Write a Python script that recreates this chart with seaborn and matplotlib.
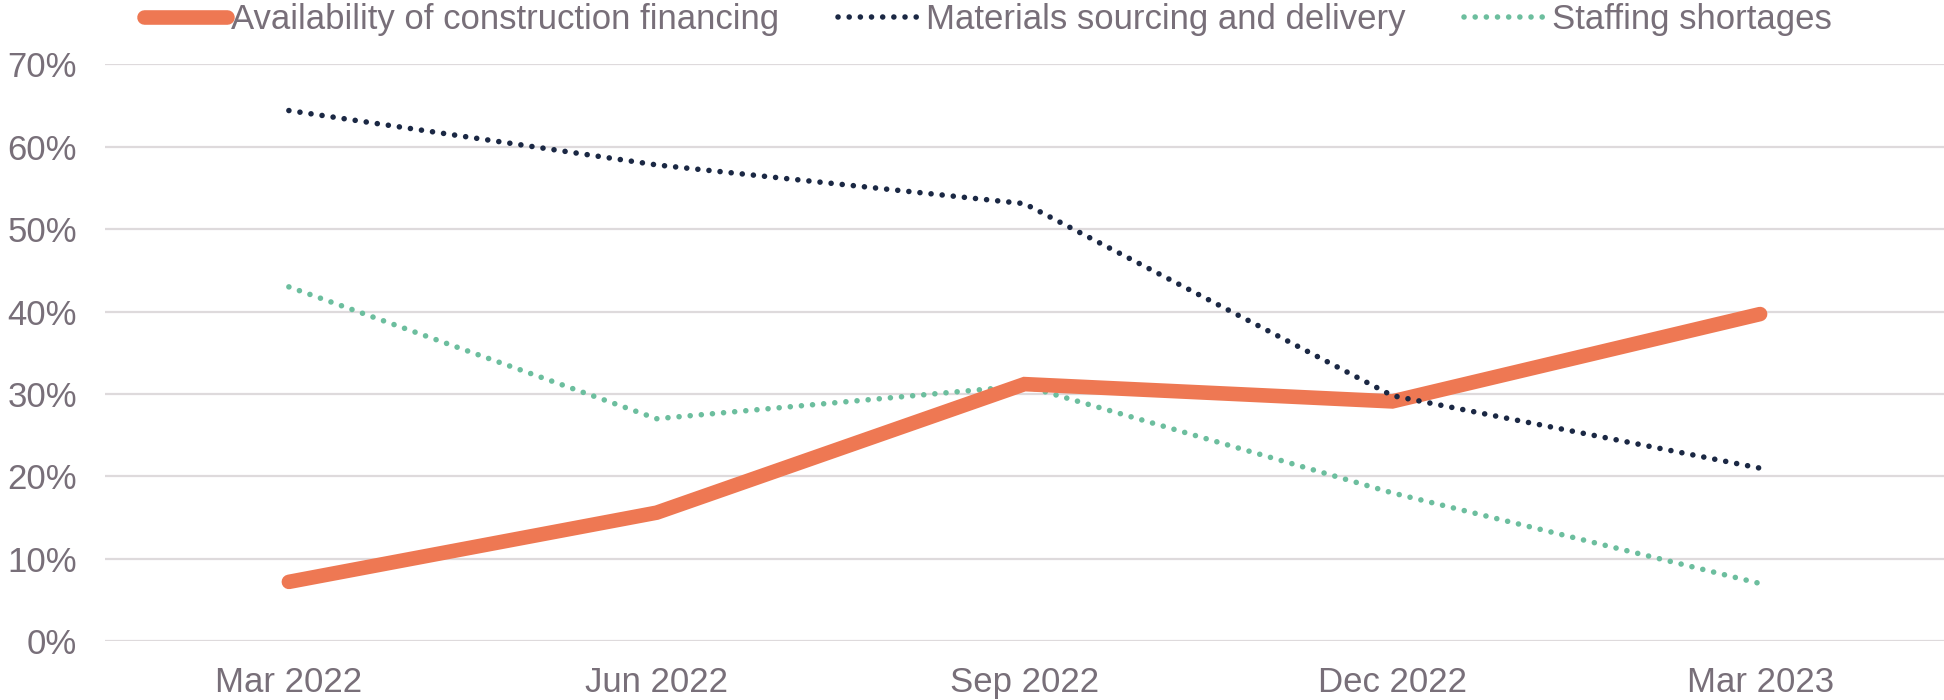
import matplotlib
matplotlib.use("Agg")
import matplotlib.pyplot as plt
import seaborn as sns
from matplotlib.ticker import FuncFormatter

quarters = ["Mar 2022", "Jun 2022", "Sep 2022", "Dec 2022", "Mar 2023"]
financing = [7.2, 15.6, 31.2, 29.1, 39.7]
materials = [64.4, 57.8, 53.1, 29.8, 21.0]
staffing = [43.0, 27.0, 31.0, 18.0, 7.0]
series_names = ["Availability of construction financing",
                "Materials sourcing and delivery",
                "Staffing shortages"]
y_ticks = [0, 10, 20, 30, 40, 50, 60, 70]

sns.set_theme(style="white")
plt.rcParams['font.family'] = ['Liberation Sans', 'DejaVu Sans']

text_color = "#786F79"
grid_color = "#DEDADC"
colors = ["#EE7853", "#1B2844", "#6CBE9E"]
dots = [0.01, 2.0]

fig = plt.figure(figsize=(19.44, 7.0), dpi=100)
ax = fig.add_axes([0.054, 0.084, 0.946, 0.824])

for v in y_ticks:
    ax.axhline(v, color=grid_color, lw=1.6, zorder=0)

sns.lineplot(x=quarters, y=financing, ax=ax, color=colors[0], lw=10.5,
             solid_capstyle="round", solid_joinstyle="miter", sort=False,
             label=series_names[0], zorder=3)
sns.lineplot(x=quarters, y=materials, ax=ax, color=colors[1], lw=4.0,
             sort=False, label=series_names[1], zorder=4)
sns.lineplot(x=quarters, y=staffing, ax=ax, color=colors[2], lw=4.0,
             sort=False, label=series_names[2], zorder=2)
for ln in ax.lines[-2:]:
    ln.set_dashes(dots)
    ln.set_dash_capstyle("round")

ax.set_xlim(-0.5, 4.5)
ax.set_ylim(0, 70)
ax.set_yticks(y_ticks)
ax.yaxis.set_major_formatter(FuncFormatter(lambda v, p: f"{int(v)}%"))
ax.tick_params(axis="both", length=0, labelsize=25, colors=text_color)
ax.tick_params(axis="y", pad=20)
ax.tick_params(axis="x", pad=18)
for s in ax.spines.values():
    s.set_visible(False)
ax.set_xlabel("")
ax.set_ylabel("")

handles, labels = ax.get_legend_handles_labels()
for h in handles[1:]:
    h.set_dashes(dots)
    h.set_dash_capstyle("round")
if ax.legend_:
    ax.legend_.remove()
leg = fig.legend(handles, labels, loc="upper center", bbox_to_anchor=(0.508, 1.04),
                 ncol=3, frameon=False, fontsize=25, handlelength=2.4,
                 handletextpad=0.12, columnspacing=1.7, labelcolor=text_color)

fig.savefig("out.png", dpi=100)
